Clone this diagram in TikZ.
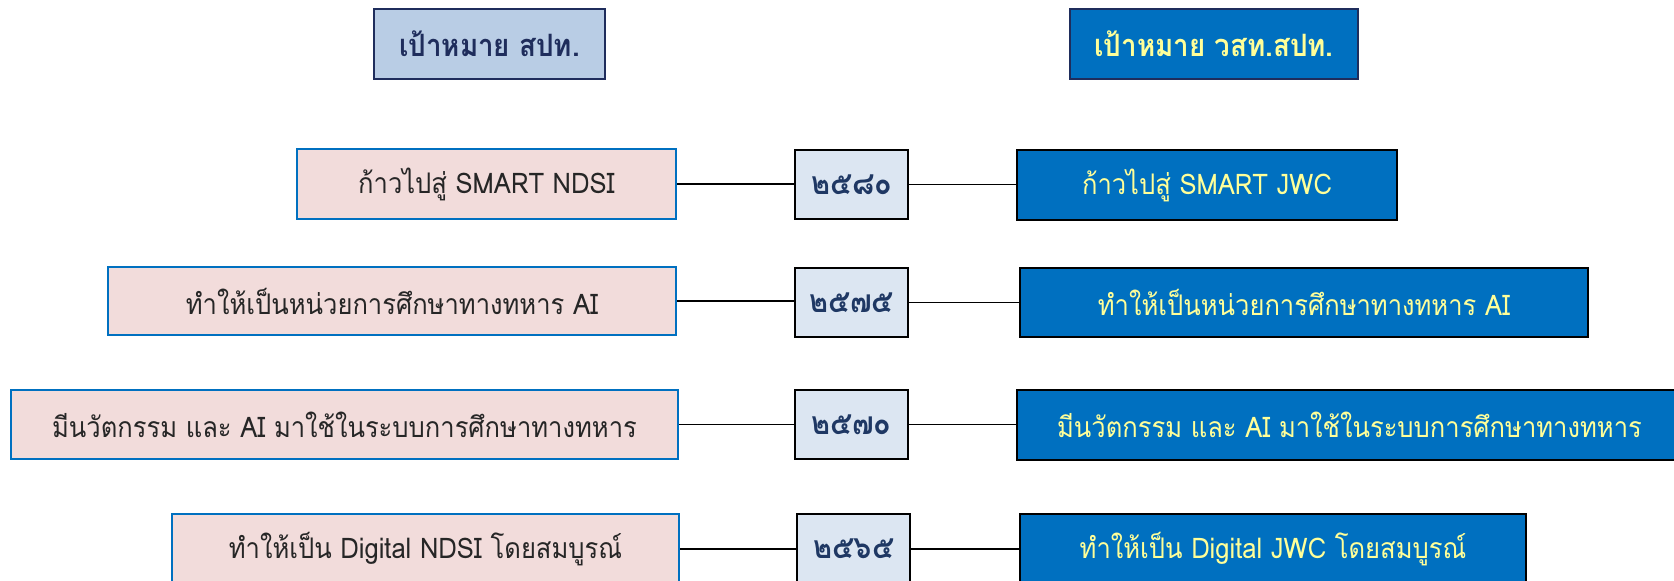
\documentclass[tikz,border=0pt]{standalone}
\usepackage{fontspec}
\setmainfont[Script=Thai,FakeStretch=0.9]{Loma}
\definecolor{hdrfill}{HTML}{B9CDE5}
\definecolor{navy}{HTML}{1F2D5C}
\definecolor{mblue}{HTML}{0070C0}
\definecolor{pinkfill}{HTML}{F2DCDB}
\definecolor{yearfill}{HTML}{DCE6F2}
\definecolor{yeartext}{HTML}{1F3864}
\definecolor{paleyellow}{HTML}{FFFF99}
\begin{document}
\begin{tikzpicture}[x=0.5pt,y=-0.5pt,
  box/.style={inner sep=0pt, font=\fontsize{14.2}{17}\selectfont},
  hdrleft/.style={box, fill=hdrfill, draw=navy, line width=1.2pt, text=navy, font=\fontsize{15.4}{18}\selectfont\bfseries},
  hdrright/.style={box, fill=mblue, draw=navy, line width=1.2pt, text=paleyellow, font=\fontsize{15.4}{18}\selectfont\bfseries},
  goalleft/.style={box, fill=pinkfill, draw=mblue, line width=1pt, text=black!85},
  yearbox/.style={box, fill=yearfill, draw=black, line width=1pt, text=yeartext, font=\fontsize{16}{18}\selectfont\bfseries},
  goalright/.style={box, fill=mblue, draw=black, line width=1.4pt, text=paleyellow},
  link/.style={draw=black, line width=0.8pt}
]
\useasboundingbox (0,0) rectangle (1674,580);
\clip (0,0) rectangle (1674,580);
% headers
\node[hdrleft, minimum width=0.5*231pt, minimum height=0.5*70pt] (HL) at (489.5,44) {เป้าหมาย สปท.};
\node[hdrright, minimum width=0.5*288pt, minimum height=0.5*70pt] (HR) at (1214,44) {เป้าหมาย วสท.สปท.};
% row 1
\node[goalleft, minimum width=0.5*379pt, minimum height=0.5*70pt] (L1) at (486.5,184) {ก้าวไปสู่ SMART NDSI};
\node[yearbox, minimum width=0.5*113pt, minimum height=0.5*69pt] (Y1) at (851.5,184.5) {๒๕๘๐};
\node[goalright, minimum width=0.5*380pt, minimum height=0.5*70pt] (R1) at (1207,185) {ก้าวไปสู่ SMART JWC};
% row 2
\node[goalleft, minimum width=0.5*568pt, minimum height=0.5*68pt] (L2) at (392,301) {ทำให้เป็นหน่วยการศึกษาทางทหาร AI};
\node[yearbox, minimum width=0.5*113pt, minimum height=0.5*69pt] (Y2) at (851.5,302.5) {๒๕๗๕};
\node[goalright, minimum width=0.5*568pt, minimum height=0.5*69pt] (R2) at (1304,302.5) {ทำให้เป็นหน่วยการศึกษาทางทหาร AI};
% row 3
\node[goalleft, minimum width=0.5*667pt, minimum height=0.5*69pt] (L3) at (344.5,424.5) {มีนวัตกรรม และ AI มาใช้ในระบบการศึกษาทางทหาร};
\node[yearbox, minimum width=0.5*113pt, minimum height=0.5*69pt] (Y3) at (851.5,424.5) {๒๕๗๐};
\node[goalright, minimum width=0.5*665pt, minimum height=0.5*70pt] (R3) at (1349.5,425) {มีนวัตกรรม และ AI มาใช้ในระบบการศึกษาทางทหาร};
% row 4
\node[goalleft, minimum width=0.5*507pt, minimum height=0.5*70pt] (L4) at (425.5,549) {ทำให้เป็น Digital NDSI โดยสมบูรณ์};
\node[yearbox, minimum width=0.5*113pt, minimum height=0.5*70pt] (Y4) at (853.5,549) {๒๕๖๕};
\node[goalright, minimum width=0.5*506pt, minimum height=0.5*70pt] (R4) at (1273,549) {ทำให้เป็น Digital JWC โดยสมบูรณ์};
% connectors
\foreach \i in {1,2,3,4}{
  \draw[link] (L\i.east) -- (L\i.east -| Y\i.west);
  \draw[link] (Y\i.east) -- (Y\i.east -| R\i.west);
}
\end{tikzpicture}
\end{document}
